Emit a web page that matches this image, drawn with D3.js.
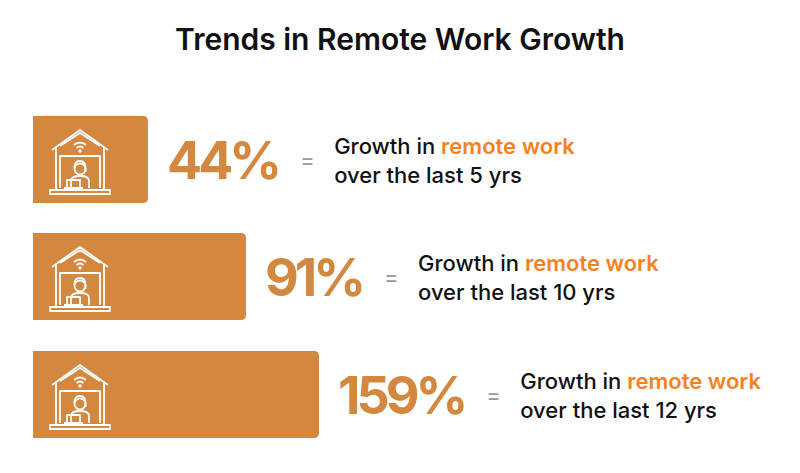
<!DOCTYPE html>
<html><head><meta charset="utf-8">
<script src="https://cdn.jsdelivr.net/npm/d3@7"></script>
<style>body{margin:0;background:#fff}</style>
</head><body><div id="plot"></div>
<script>
const width = 800, height = 473;
const values = [44, 91, 159];
const periods = ["5", "10", "12"];
const rowTop = [116, 233, 351];

const barColor = "#d4883f";
const svg = d3.select("#plot").append("svg").attr("width", width).attr("height", height);

svg.append("text").attr("x", width / 2).attr("y", 50).attr("text-anchor", "middle")
  .style("font-family", "Inter").style("font-size", "30px").style("font-weight", 600)
  .attr("fill", "#111").text("Trends in Remote Work Growth");

// bar length scale (piecewise to match the graphic)
const w = d3.scaleLinear().domain([44, 91, 159]).range([115, 213, 286]);
const x0 = 33, bh = 87, r = 5;

values.forEach((v, i) => {
  const y = rowTop[i], bw = w(v);
  const g = svg.append("g");
  g.append("path").attr("fill", barColor)
    .attr("d", `M${x0},${y}H${x0 + bw - r}Q${x0 + bw},${y} ${x0 + bw},${y + r}V${y + bh - r}Q${x0 + bw},${y + bh} ${x0 + bw - r},${y + bh}H${x0}Z`);

  // house icon
  const ic = g.append("g").attr("transform", `translate(50,${y + 12})`)
    .attr("fill", "none").attr("stroke", "#fff").attr("stroke-width", 1.8).attr("stroke-linejoin", "round");
  ic.append("path").attr("d", "M2,22 L30,2 L58,22 M6,20 V62 M54,20 V62 M10,18 L30,5 L50,18");
  ic.append("path").attr("d", "M10,60 V28 H50 V60");
  ic.append("path").attr("d", "M0,62 H60 V66 H0 Z");
  ic.append("path").attr("d", "M24,17 Q30,12 36,17 M26.5,20 Q30,17 33.5,20");
  ic.append("circle").attr("cx", 30).attr("cy", 23).attr("r", 0.8).attr("fill", "#fff");
  ic.append("circle").attr("cx", 30).attr("cy", 41).attr("r", 5.5);
  ic.append("path").attr("d", "M24.5,40 Q24,33 30,33 Q36,33 35.5,41 V44");
  ic.append("path").attr("d", "M21,60 V53 Q21,48 30,48 Q39,48 39,53 V60");
  ic.append("path").attr("d", "M17,52 H30 V60 H17 Z M14,60 H33");

  const vx = x0 + bw + 19;
  const vt = g.append("text").attr("x", vx).attr("y", y + 63)
    .style("font-family", "Inter").style("font-size", "52px").style("font-weight", 700)
    .style("letter-spacing", "-4px").attr("fill", barColor).text(v + "%");
  const vw = vt.node().getComputedTextLength();
  const ex = vx + vw + 22;
  g.append("text").attr("x", ex).attr("y", y + 52)
    .style("font-family", "Inter").style("font-size", "22px").attr("fill", "#999").text("=");
  const tx = ex + 34;
  const fs = "22px";
  const t1 = g.append("text").attr("x", tx).attr("y", y + 38)
    .style("font-family", "Inter").style("font-size", fs).style("font-weight", 500).attr("fill", "#111");
  t1.append("tspan").text("Growth in ");
  t1.append("tspan").attr("fill", "#f58220").style("font-weight", 600).text("remote work");
  g.append("text").attr("x", tx).attr("y", y + 67)
    .style("font-family", "Inter").style("font-size", fs).style("font-weight", 500).attr("fill", "#111")
    .text(`over the last ${periods[i]} yrs`);
});
</script></body></html>
